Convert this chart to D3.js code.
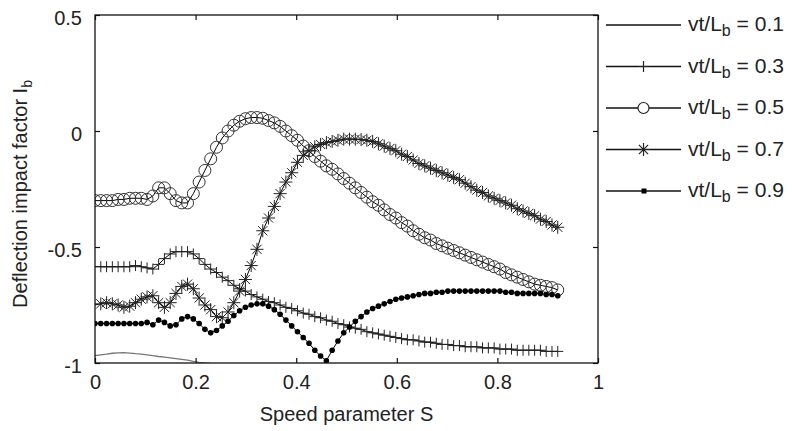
<!DOCTYPE html>
<html>
<head>
<meta charset="utf-8">
<script src="https://cdn.jsdelivr.net/npm/d3@7"></script>
<style>
  body { margin: 0; background: #fff; }
  text { font-family: "Liberation Sans", Arial, sans-serif; fill: #222; }
</style>
</head>
<body>
<div id="chart"></div>
<script>
const w = 792;
const h = 431;
const margin = {left: 95, right: 194, top: 15, bottom: 68};

// speed parameter S (x values shared by all curves)
const sValues = [
  0, 0.0115, 0.023, 0.0345, 0.046, 0.0575, 0.069, 0.0805, 0.092, 0.1035,
  0.115, 0.1265, 0.138, 0.1495, 0.161, 0.1725, 0.184, 0.1955, 0.207, 0.2185,
  0.23, 0.2415, 0.253, 0.2645, 0.276, 0.2875, 0.299, 0.3105, 0.322, 0.3335,
  0.345, 0.3565, 0.368, 0.3795, 0.391, 0.4025, 0.414, 0.4255, 0.437, 0.4485,
  0.46, 0.4715, 0.483, 0.4945, 0.506, 0.5175, 0.529, 0.5405, 0.552, 0.5635,
  0.575, 0.5865, 0.598, 0.6095, 0.621, 0.6325, 0.644, 0.6555, 0.667, 0.6785,
  0.69, 0.7015, 0.713, 0.7245, 0.736, 0.7475, 0.759, 0.7705, 0.782, 0.7935,
  0.805, 0.8165, 0.828, 0.8395, 0.851, 0.8625, 0.874, 0.8855, 0.897, 0.9085,
  0.92
];

// vt/Lb = 0.1 (only the visible part above the x axis)
const ib01 = [
  -0.968, -0.965, -0.962, -0.958, -0.956, -0.955, -0.957, -0.96, -0.962, -0.965,
  -0.968, -0.972, -0.975, -0.978, -0.981, -0.984, -0.988, -0.993, -0.997, -1.0,
  -1.002
];

const ib03 = [
  -0.585, -0.585, -0.585, -0.585, -0.585, -0.585, -0.585, -0.58, -0.585, -0.59,
  -0.595, -0.575, -0.55, -0.53, -0.52, -0.52, -0.52, -0.53, -0.55, -0.575,
  -0.595, -0.61, -0.63, -0.645, -0.665, -0.68, -0.69, -0.705, -0.715, -0.725,
  -0.735, -0.74, -0.75, -0.76, -0.765, -0.775, -0.785, -0.79, -0.8, -0.805,
  -0.815, -0.82, -0.83, -0.835, -0.845, -0.85, -0.855, -0.865, -0.87, -0.875,
  -0.88, -0.885, -0.89, -0.895, -0.9, -0.9, -0.905, -0.91, -0.91, -0.915,
  -0.92, -0.92, -0.925, -0.925, -0.93, -0.93, -0.93, -0.935, -0.935, -0.935,
  -0.94, -0.94, -0.94, -0.945, -0.945, -0.945, -0.945, -0.945, -0.95, -0.95,
  -0.95
];

const ib05 = [
  -0.30, -0.30, -0.30, -0.30, -0.295, -0.295, -0.29, -0.29, -0.29, -0.295,
  -0.28, -0.245, -0.245, -0.27, -0.30, -0.31, -0.31, -0.27, -0.22, -0.17,
  -0.12, -0.07, -0.03, 0.0, 0.025, 0.042, 0.053, 0.058, 0.058, 0.055,
  0.045, 0.035, 0.02, 0.0, -0.02, -0.04, -0.065, -0.085, -0.11, -0.13,
  -0.15, -0.165, -0.185, -0.205, -0.225, -0.245, -0.265, -0.285, -0.305, -0.32,
  -0.34, -0.36, -0.375, -0.395, -0.41, -0.43, -0.445, -0.46, -0.47, -0.485,
  -0.495, -0.505, -0.515, -0.525, -0.535, -0.545, -0.555, -0.565, -0.575, -0.585,
  -0.595, -0.61, -0.62, -0.63, -0.64, -0.65, -0.66, -0.665, -0.67, -0.675,
  -0.685
];

const ib07 = [
  -0.75, -0.745, -0.74, -0.745, -0.75, -0.76, -0.755, -0.74, -0.725, -0.715,
  -0.71, -0.74, -0.76, -0.74, -0.70, -0.67, -0.66, -0.68, -0.72, -0.75,
  -0.77, -0.80, -0.805, -0.78, -0.74, -0.69, -0.64, -0.58, -0.51, -0.43,
  -0.375, -0.325, -0.27, -0.22, -0.18, -0.135, -0.105, -0.085, -0.068, -0.058,
  -0.05, -0.045, -0.04, -0.035, -0.035, -0.035, -0.037, -0.04, -0.045, -0.055,
  -0.065, -0.075, -0.085, -0.10, -0.11, -0.125, -0.14, -0.15, -0.16, -0.17,
  -0.18, -0.19, -0.20, -0.21, -0.225, -0.24, -0.255, -0.265, -0.28, -0.29,
  -0.30, -0.31, -0.32, -0.335, -0.345, -0.355, -0.365, -0.38, -0.39, -0.405,
  -0.415
];

const ib09 = [
  -0.83, -0.83, -0.83, -0.83, -0.83, -0.83, -0.83, -0.83, -0.83, -0.825,
  -0.835, -0.815, -0.825, -0.84, -0.835, -0.81, -0.80, -0.81, -0.83, -0.855,
  -0.87, -0.86, -0.84, -0.82, -0.795, -0.775, -0.76, -0.75, -0.745, -0.745,
  -0.755, -0.77, -0.79, -0.815, -0.84, -0.865, -0.89, -0.915, -0.945, -0.97,
  -0.99, -0.945, -0.905, -0.87, -0.845, -0.82, -0.80, -0.78, -0.765, -0.755,
  -0.745, -0.735, -0.725, -0.72, -0.715, -0.71, -0.705, -0.70, -0.70, -0.695,
  -0.695, -0.69, -0.69, -0.69, -0.69, -0.69, -0.69, -0.69, -0.69, -0.69,
  -0.69, -0.695, -0.695, -0.70, -0.70, -0.70, -0.70, -0.70, -0.705, -0.705,
  -0.71
];

const legendValues = ['0.1', '0.3', '0.5', '0.7', '0.9'];
const xTicks = [0, 0.2, 0.4, 0.6, 0.8, 1];
const yTicks = [-1, -0.5, 0, 0.5];

const series = [
  {label: legendValues[0], values: ib01, marker: null, color: '#777', width: 1.3},
  {label: legendValues[1], values: ib03, marker: 'plus', color: '#000', width: 1},
  {label: legendValues[2], values: ib05, marker: 'circle', color: '#000', width: 1},
  {label: legendValues[3], values: ib07, marker: 'star', color: '#000', width: 1},
  {label: legendValues[4], values: ib09, marker: 'dot', color: '#000', width: 1}
];

const svg = d3.select('#chart')
  .append('svg')
  .attr('width', w)
  .attr('height', h);

const x = d3.scaleLinear().domain([0, 1]).range([margin.left, w - margin.right]);
const y = d3.scaleLinear().domain([-1, 0.5]).range([h - margin.bottom, margin.top]);

svg.append('clipPath')
  .attr('id', 'plot-clip')
  .append('rect')
  .attr('x', x(0))
  .attr('y', y(0.5))
  .attr('width', x(1) - x(0))
  .attr('height', y(-1) - y(0.5));

// marker shapes, in the style of matlab
function markerPath(type) {
  if (type === 'plus') return 'M-5.5,0H5.5M0,-5.5V5.5';
  if (type === 'star') return 'M-6.5,0H6.5M0,-6.5V6.5M-4.6,-4.6L4.6,4.6M-4.6,4.6L4.6,-4.6';
  return null;
}

function drawMarkers(g, pts, type) {
  if (type === 'circle') {
    g.selectAll('circle').data(pts).enter().append('circle')
      .attr('cx', d => x(d[0])).attr('cy', d => y(d[1]))
      .attr('r', 6).attr('fill', 'none').attr('stroke', '#333').attr('stroke-width', 1);
  } else if (type === 'dot') {
    g.selectAll('circle').data(pts).enter().append('circle')
      .attr('cx', d => x(d[0])).attr('cy', d => y(d[1]))
      .attr('r', 2.8).attr('fill', '#000');
  } else if (type) {
    g.selectAll('path').data(pts).enter().append('path')
      .attr('transform', d => `translate(${x(d[0])},${y(d[1])})`)
      .attr('d', markerPath(type))
      .attr('fill', 'none').attr('stroke', '#222').attr('stroke-width', 1);
  }
}

const plot = svg.append('g').attr('clip-path', 'url(#plot-clip)');
const line = d3.line().x(d => x(d[0])).y(d => y(d[1]));

series.forEach(s => {
  const pts = s.values.map((v, i) => [sValues[i], v]);
  const g = plot.append('g');
  g.append('path')
    .datum(pts)
    .attr('d', line)
    .attr('fill', 'none')
    .attr('stroke', s.color)
    .attr('stroke-width', s.width);
  drawMarkers(g, pts, s.marker);
});

// box and inward ticks on all four sides
const tickLen = 5;
const fmt = d => d.toString();

svg.append('g')
  .attr('transform', `translate(0,${y(-1)})`)
  .call(d3.axisBottom(x).tickValues(xTicks).tickSizeInner(-tickLen).tickSizeOuter(0).tickPadding(12).tickFormat(fmt))
  .call(g => g.select('.domain').remove())
  .call(g => g.selectAll('text').attr('font-size', '20px').attr('font-family', '"Liberation Sans", Arial, sans-serif').attr('fill', '#222'));

svg.append('g')
  .attr('transform', `translate(${x(0)},0)`)
  .call(d3.axisLeft(y).tickValues(yTicks).tickSizeInner(-tickLen).tickSizeOuter(0).tickPadding(13).tickFormat(fmt))
  .call(g => g.select('.domain').remove())
  .call(g => g.selectAll('text').attr('font-size', '20px').attr('font-family', '"Liberation Sans", Arial, sans-serif').attr('fill', '#222').attr('dy', '0.45em'));

svg.append('g')
  .attr('transform', `translate(0,${y(0.5)})`)
  .call(d3.axisTop(x).tickValues(xTicks).tickSizeInner(-tickLen).tickSizeOuter(0).tickFormat(''))
  .call(g => g.select('.domain').remove());

svg.append('g')
  .attr('transform', `translate(${x(1)},0)`)
  .call(d3.axisRight(y).tickValues(yTicks).tickSizeInner(-tickLen).tickSizeOuter(0).tickFormat(''))
  .call(g => g.select('.domain').remove());

svg.selectAll('.tick line').attr('stroke', '#111').attr('stroke-width', 1.2);

svg.append('rect')
  .attr('x', x(0))
  .attr('y', y(0.5))
  .attr('width', x(1) - x(0))
  .attr('height', y(-1) - y(0.5))
  .attr('fill', 'none')
  .attr('stroke', '#111')
  .attr('stroke-width', 1.3);

// axis titles
svg.append('text')
  .attr('x', (x(0) + x(1)) / 2)
  .attr('y', 421)
  .attr('text-anchor', 'middle')
  .attr('font-size', '20px')
  .text('Speed parameter S');

const yTitle = svg.append('text')
  .attr('transform', `translate(27,194) rotate(-90)`)
  .attr('text-anchor', 'middle')
  .attr('font-size', '20px');
yTitle.append('tspan').text('Deflection impact factor I');
yTitle.append('tspan').attr('font-size', '14px').attr('dy', 5).text('b');

// legend
const legend = svg.selectAll('.legend')
  .data(series)
  .enter()
  .append('g')
  .attr('class', 'legend')
  .attr('transform', (d, i) => `translate(606, ${25 + i * 41.5})`);

legend.append('line')
  .attr('x1', 0).attr('x2', 75)
  .attr('stroke', '#111').attr('stroke-width', 1.3);

legend.each(function(d) {
  const g = d3.select(this);
  if (d.marker === 'circle') {
    g.append('circle').attr('cx', 37.5).attr('r', 5.5).attr('fill', 'white').attr('stroke', '#222').attr('stroke-width', 1.2);
  } else if (d.marker === 'dot') {
    g.append('rect').attr('x', 35.5).attr('y', -2.5).attr('width', 5).attr('height', 5).attr('fill', '#000');
  } else if (d.marker) {
    g.append('path').attr('transform', 'translate(37.5,0)').attr('d', markerPath(d.marker))
      .attr('fill', 'none').attr('stroke', '#222').attr('stroke-width', 1.2);
  }
  const t = g.append('text').attr('x', 82).attr('y', 6).attr('font-size', '21px');
  t.append('tspan').text('vt/L');
  t.append('tspan').attr('font-size', '16px').attr('dy', 5).text('b');
  t.append('tspan').attr('dy', -5).text(' = ' + d.label);
});
</script>
</body>
</html>
